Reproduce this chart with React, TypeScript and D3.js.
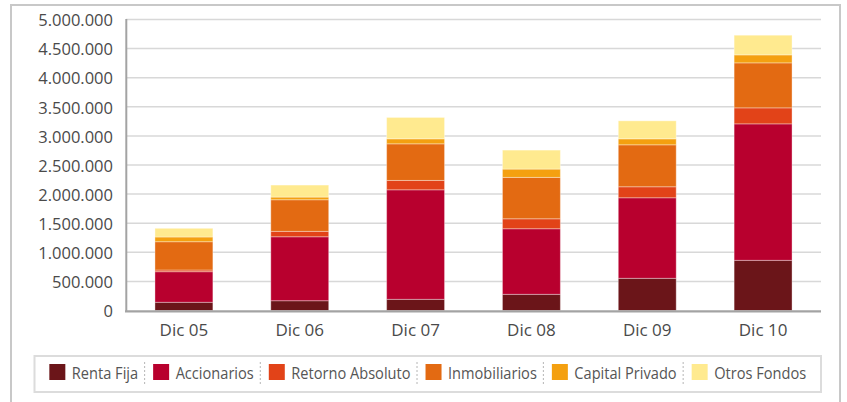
import React, { useEffect, useRef } from 'react';
import * as d3 from 'd3';

const categories = ['Dic 05', 'Dic 06', 'Dic 07', 'Dic 08', 'Dic 09', 'Dic 10'];
const seriesNames = ['Renta Fija', 'Accionarios', 'Retorno Absoluto', 'Inmobiliarios', 'Capital Privado', 'Otros Fondos'];
const seriesColors = ['#6b1519', '#b8002e', '#e24318', '#e36a12', '#f4a010', '#ffea8f'];

const rentaFija = [141000, 168000, 192000, 278000, 553000, 862000];
const accionarios = [526000, 1099000, 1882000, 1127000, 1384000, 2345000];
const retornoAbsoluto = [29000, 93000, 161000, 171000, 189000, 275000];
const inmobiliarios = [486000, 543000, 629000, 711000, 721000, 773000];
const capitalPrivado = [81000, 46000, 86000, 143000, 103000, 137000];
const otrosFondos = [149000, 206000, 367000, 326000, 309000, 338000];

const yTicks = [0, 500000, 1000000, 1500000, 2000000, 2500000, 3000000, 3500000, 4000000, 4500000, 5000000];

const App = () => {
  const ref = useRef<SVGSVGElement | null>(null);

  useEffect(() => {
    const width = 847;
    const height = 402;
    const font = '"Open Sans", sans-serif';

    const svg = d3.select(ref.current);
    svg.selectAll('*').remove();

    const seriesValues = [rentaFija, accionarios, retornoAbsoluto, inmobiliarios, capitalPrivado, otrosFondos];
    const table = categories.map((cat, i) => {
      const row: any = { cat };
      seriesNames.forEach((name, s) => { row[name] = seriesValues[s][i]; });
      return row;
    });

    const x = d3.scaleBand().domain(categories).range([126, 821]).paddingInner(0.5).paddingOuter(0.25);
    const y = d3.scaleLinear().domain([0, 5000000]).range([310.5, 19.5]);
    const color = d3.scaleOrdinal<string, string>().domain(seriesNames).range(seriesColors);

    const fmt = d3.formatLocale({ decimal: ',', thousands: '.', grouping: [3], currency: ['', ''] }).format(',');

    // outer frame
    svg.append('rect')
      .attr('x', 11).attr('y', 5)
      .attr('width', 829).attr('height', 430)
      .attr('fill', 'none')
      .attr('stroke', '#c8c8c8')
      .attr('stroke-width', 2);

    // grid
    svg.append('g')
      .selectAll('line')
      .data(yTicks.filter((d) => d > 0))
      .enter()
      .append('line')
      .attr('x1', 126).attr('x2', 821)
      .attr('y1', (d) => y(d)).attr('y2', (d) => y(d))
      .attr('stroke', '#d8d8d8')
      .attr('stroke-width', 1.5);

    // y labels
    svg.append('g')
      .selectAll('text')
      .data(yTicks)
      .enter()
      .append('text')
      .attr('x', 113)
      .attr('y', (d) => y(d) + 1)
      .attr('dy', '0.35em')
      .attr('text-anchor', 'end')
      .style('font-family', font)
      .style('font-size', '16.5px')
      .attr('fill', '#4a4a4a')
      .text((d) => fmt(d));

    // bars
    const stacked = d3.stack().keys(seriesNames)(table);
    svg.append('g')
      .selectAll('g')
      .data(stacked)
      .enter()
      .append('g')
      .attr('fill', (d) => color(d.key))
      .selectAll('rect')
      .data((d) => d)
      .enter()
      .append('rect')
      .attr('x', (d: any) => x(d.data.cat))
      .attr('width', x.bandwidth())
      .attr('y', (d) => y(d[1]))
      .attr('height', (d) => y(d[0]) - y(d[1]))
      .attr('stroke', 'rgba(255,255,255,0.35)')
      .attr('stroke-width', 1);

    // axes lines
    svg.append('line')
      .attr('x1', 126.3).attr('x2', 126.3)
      .attr('y1', 19).attr('y2', 312)
      .attr('stroke', '#a3a3a3')
      .attr('stroke-width', 2);
    svg.append('line')
      .attr('x1', 125).attr('x2', 821)
      .attr('y1', 311.3).attr('y2', 311.3)
      .attr('stroke', '#a3a3a3')
      .attr('stroke-width', 2.3);

    // category labels
    svg.append('g')
      .selectAll('text')
      .data(categories)
      .enter()
      .append('text')
      .attr('x', (d) => (x(d) as number) + x.bandwidth() / 2)
      .attr('y', 336)
      .attr('text-anchor', 'middle')
      .style('font-family', font)
      .style('font-size', '17px')
      .attr('fill', '#4a4a4a')
      .text((d) => d);

    // legend
    const boxX = 34.5;
    const boxW = 786.5;
    svg.append('rect')
      .attr('x', boxX).attr('y', 356)
      .attr('width', boxW).attr('height', 36)
      .attr('fill', '#fff')
      .attr('stroke', '#dcdcdc')
      .attr('stroke-width', 2);

    const legend = svg.append('g');
    const squeeze = 0.885;
    const items = legend.selectAll('g.item')
      .data(seriesNames)
      .enter()
      .append('g')
      .attr('class', 'item');

    items.append('rect')
      .attr('x', 0).attr('y', 364)
      .attr('width', 16).attr('height', 16)
      .attr('fill', (d) => color(d));

    items.append('text')
      .attr('transform', `translate(22.5,379) scale(${squeeze},1)`)
      .style('font-family', font)
      .style('font-size', '16.5px')
      .attr('fill', '#555')
      .text((d) => d);

    let cursor = 0;
    const seps: number[] = [];
    items.each(function (d, i) {
      const g = d3.select(this);
      const tw = (g.select('text').node() as SVGTextElement).getComputedTextLength() * squeeze;
      g.attr('transform', `translate(${cursor},0)`);
      cursor += 22.5 + tw;
      if (i < seriesNames.length - 1) {
        seps.push(cursor + 6.5);
        cursor += 15;
      }
    });
    const offset = boxX + (boxW - cursor) / 2;
    legend.attr('transform', `translate(${offset},0)`);

    legend.selectAll('line.sep')
      .data(seps)
      .enter()
      .append('line')
      .attr('class', 'sep')
      .attr('x1', (d) => d).attr('x2', (d) => d)
      .attr('y1', 362).attr('y2', 384)
      .attr('stroke', '#b5b5b5')
      .attr('stroke-width', 1)
      .attr('stroke-dasharray', '2,2');

    svg.attr('width', width).attr('height', height);
  }, []);

  return (
    <svg
      ref={ref}
      width={847}
      height={402}
      style={{ position: 'absolute', left: 0, top: 0, background: '#fff' }}
    />
  );
};

export default App;
